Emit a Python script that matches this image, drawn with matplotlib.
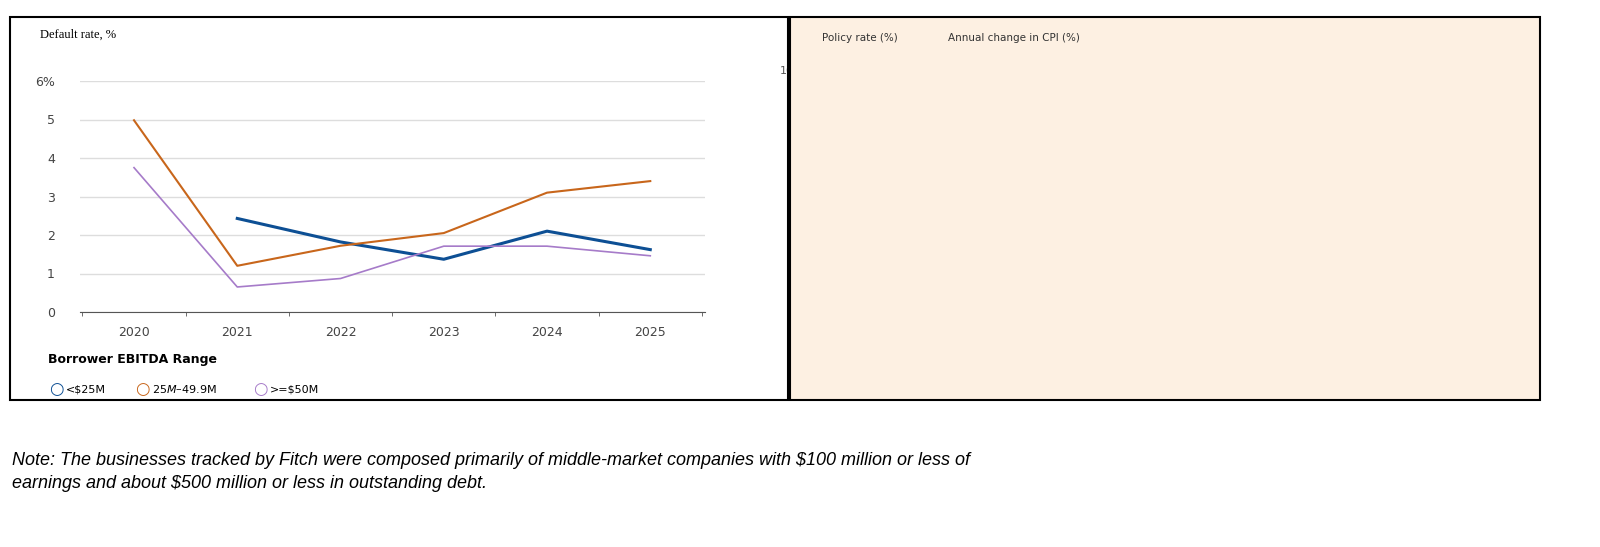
import numpy as np
import pandas as pd
import matplotlib
matplotlib.use("Agg")
import matplotlib.pyplot as plt
from matplotlib.patches import Rectangle
from matplotlib.lines import Line2D

# Left chart data
years = [2020, 2021, 2022, 2023, 2024, 2025]
small = [np.nan, 2.43, 1.82, 1.37, 2.10, 1.62]
mid = [4.98, 1.20, 1.72, 2.05, 3.10, 3.40]
large = [3.75, 0.65, 0.87, 1.71, 1.71, 1.46]

# Right chart data (monthly, Feb 2020 - Jan 2026)
months = pd.date_range("2020-02-01", "2026-01-01", freq="MS")
policy = [1.75] + [0.25] * 24 + [0.5, 0.5, 1.0, 1.75, 2.5, 2.5, 3.25, 3.25, 4.0, 4.5,
          4.5, 4.75, 5.0, 5.0, 5.25, 5.25] + [5.5] * 14 + [5.0, 5.0, 4.75, 4.5] + \
         [4.5] * 8 + [4.25, 4.0, 4.0, 3.75, 3.75]
cpi = [2.3, 1.5, 0.3, 0.1, 0.6, 1.0, 1.3, 1.4, 1.2, 1.2, 1.4,
       1.4, 1.7, 2.6, 4.2, 5.0, 5.4, 5.4, 5.3, 5.4, 6.2, 6.8, 7.0,
       7.5, 7.9, 8.5, 8.3, 8.6, 9.1, 8.5, 8.3, 8.2, 7.7, 7.1, 6.5,
       6.4, 6.0, 5.0, 4.9, 4.0, 3.0, 3.2, 3.7, 3.7, 3.2, 3.1, 3.4,
       3.1, 3.2, 3.5, 3.4, 3.3, 3.0, 2.9, 2.5, 2.4, 2.6, 2.7, 2.9,
       3.0, 2.8, 2.4, 2.3, 2.4, 2.7, 2.7, 2.9, 3.0, 2.9, 2.7, 2.7, 2.4]

W, H = 1600, 547
fig = plt.figure(figsize=(16, 5.47), dpi=100)

def box(x0, y0, x1, y1):
    return [x0 / W, 1 - y1 / H, (x1 - x0) / W, (y1 - y0) / H]

# panel frames
fig.patches.append(Rectangle((10 / W, 1 - 400 / H), 778 / W, 383 / H, transform=fig.transFigure,
                             fill=False, lw=1.5, ec="black"))
fig.patches.append(Rectangle((790 / W, 1 - 400 / H), 750 / W, 383 / H, transform=fig.transFigure,
                             fc="#fdf0e2", lw=1.5, ec="black"))

# ---- left chart
ax = fig.add_axes(box(80, 81, 705, 312))
ax.plot(years, small, color="#0d4f94", lw=2.2)
ax.plot(years, mid, color="#c8661b", lw=1.5)
ax.plot(years, large, color="#a67bc9", lw=1.2)
ax.set_xlim(2019.477, 2025.53)
ax.set_ylim(0, 6)
ax.set_yticks(range(7))
ax.set_yticklabels(["0", "1", "2", "3", "4", "5", "6%"], fontsize=9, color="#444")
ax.set_xticks(years)
ax.set_xticklabels([str(y) for y in years], fontsize=9, color="#444")
ax.grid(axis="y", color="#dddddd", lw=1)
for s in ["top", "right", "left"]:
    ax.spines[s].set_visible(False)
ax.spines["bottom"].set_color("#555")
ax.tick_params(axis="y", length=0, pad=18)
ax.tick_params(axis="x", length=0, pad=10)
ax.set_xticks(np.arange(2019.5, 2026, 1), minor=True)
ax.tick_params(axis="x", which="minor", length=3, color="#555")
fig.text(40 / W, 1 - 35 / H, "Default rate, %", fontsize=9, family="Liberation Serif", va="center")
fig.text(48 / W, 1 - 360 / H, "Borrower EBITDA Range", fontsize=9, weight="bold", va="center",
         family="DejaVu Sans Condensed")
fig.lines.append(Line2D([48 / W, 327 / W], [1 - 371 / H] * 2, color="#555", lw=1.2))
for x, c, lab in [(56, "#0d4f94", "<$25M"), (142, "#c8661b", "$25M\u2013$49.9M"),
                  (260, "#a67bc9", ">=$50M")]:
    fig.text(x / W, 1 - 389 / H, "\u25CB", color=c, fontsize=12, va="center", ha="center", weight="bold")
    fig.text((x + 10) / W, 1 - 389 / H, lab, fontsize=8, va="center", family="DejaVu Sans Condensed")

# ---- right chart
ax2 = fig.add_axes(box(805, 70, 1495, 364))
ax2.set_facecolor("none")
ax2.fill_between(months, policy, cpi, color="#e3d9cf", lw=0)
ax2.plot(months, policy, color="#0f5499", lw=2)
ax2.plot(months, cpi, color="#ef6a8f", lw=2)
ax2.set_xlim(months[0], months[-1])
ax2.set_ylim(0, 10)
ax2.set_yticks(range(0, 11, 2))
ax2.tick_params(axis="y", length=0, labelsize=8, labelcolor="#555", pad=8)
ax2.grid(axis="y", color="#e6dcd2", lw=1)
ticks = pd.date_range("2021-01-01", "2026-01-01", freq="YS")
ax2.set_xticks(ticks)
ax2.set_xticklabels([t.strftime("Jan %Y") for t in ticks], fontsize=8, color="#555")
ax2.tick_params(axis="x", length=4, color="#999")
for s in ["top", "right", "left"]:
    ax2.spines[s].set_visible(False)
ax2.spines["bottom"].set_color("#999")
fig.lines.append(Line2D([800 / W, 818 / W], [1 - 38 / H] * 2, color="#0f5499", lw=2.5))
fig.text(822 / W, 1 - 38 / H, "Policy rate (%)", fontsize=7.5, va="center", color="#333")
fig.lines.append(Line2D([926 / W, 944 / W], [1 - 38 / H] * 2, color="#ef6a8f", lw=2.5))
fig.text(948 / W, 1 - 38 / H, "Annual change in CPI (%)", fontsize=7.5, va="center", color="#333")

# note
note = ("Note: The businesses tracked by Fitch were composed primarily of middle-market companies with $100 million or less of\n"
        "earnings and about $500 million or less in outstanding debt.")
fig.text(12 / W, 1 - 472 / H, note, fontsize=13, style="italic", va="center", linespacing=1.5,
         family="Liberation Sans")

fig.savefig("out.png", dpi=100)
